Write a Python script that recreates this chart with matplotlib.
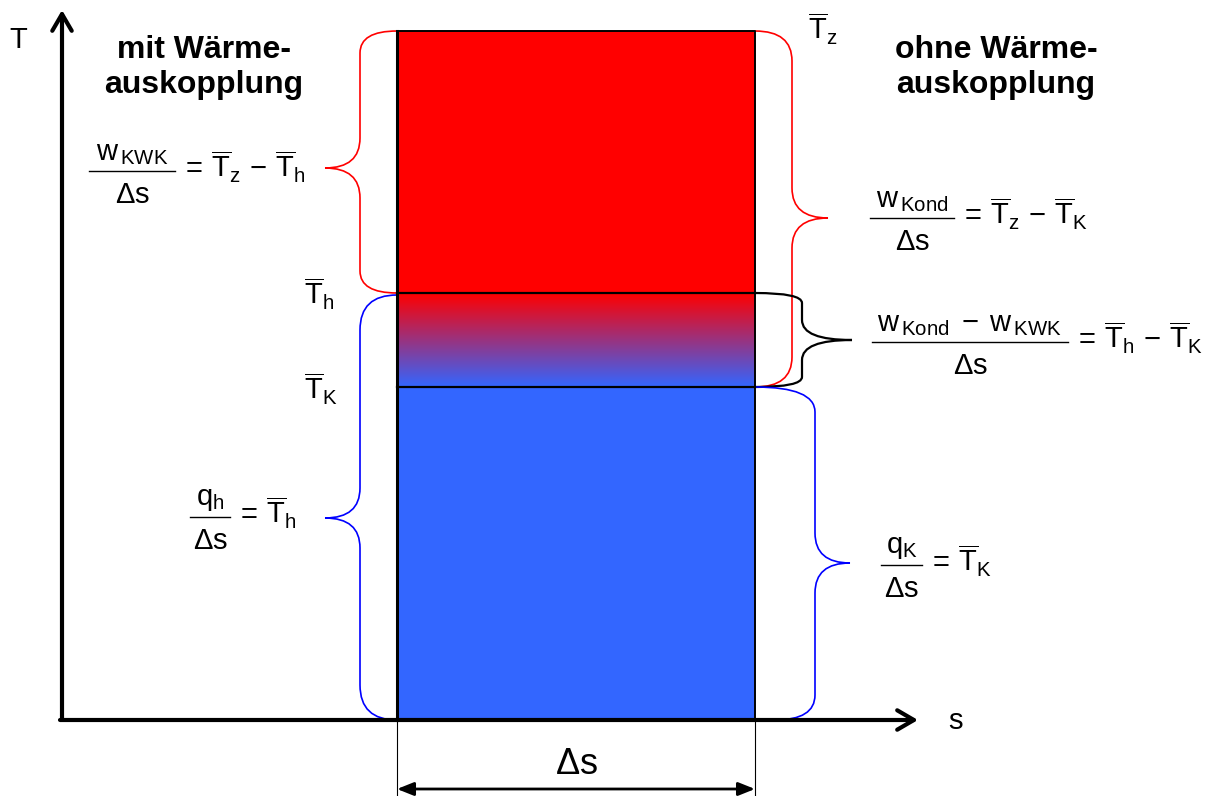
import numpy as np
import matplotlib.pyplot as plt
from matplotlib.path import Path
from matplotlib.patches import PathPatch, Rectangle, FancyArrowPatch
from matplotlib.colors import LinearSegmentedColormap

plt.rcParams['font.family'] = ['Liberation Sans', 'DejaVu Sans']
plt.rcParams['mathtext.fontset'] = 'custom'
plt.rcParams['mathtext.rm'] = 'Liberation Sans'
plt.rcParams['mathtext.it'] = 'Liberation Sans'
plt.rcParams['mathtext.default'] = 'regular'

# Diagram levels (canvas units, T grows upward)
H = 796
origin = (62, H - 720)
s_left, s_right = 397, 755
T_z = H - 31
T_h = H - 293
T_K = H - 387
T_0 = H - 720
s_tip = 918
T_tip = H - 10

col_hot = '#FF0000'
col_cold = '#3366FF'

fig = plt.figure(figsize=(12.08, 7.96), dpi=100)
ax = fig.add_axes([0, 0, 1, 1])
ax.set_xlim(0, 1208)
ax.set_ylim(0, H)
ax.axis('off')

# filled areas
ax.add_patch(Rectangle((s_left, T_h), s_right - s_left, T_z - T_h, fc=col_hot, ec='none'))
ax.add_patch(Rectangle((s_left, T_0), s_right - s_left, T_K - T_0, fc=col_cold, ec='none'))
grad = LinearSegmentedColormap.from_list('grad', [col_cold, col_hot])
ax.imshow(np.linspace(0, 1, 200).reshape(-1, 1), cmap=grad, origin='lower', aspect='auto',
          extent=[s_left, s_right, T_K, T_h], zorder=1)
# outlines
ax.plot([s_left, s_left], [T_0, T_z], color='black', lw=2.2, zorder=3)
ax.plot([s_left, s_right, s_right], [T_z, T_z, T_0], color='black', lw=1.4, zorder=3)
ax.plot([s_left, s_right], [T_h, T_h], color='black', lw=1.6, zorder=3)
ax.plot([s_left, s_right], [T_K, T_K], color='black', lw=1.6, zorder=3)

# axes arrows
ax.add_patch(FancyArrowPatch((origin[0], origin[1]), (origin[0], T_tip), arrowstyle='->,head_length=12,head_width=7',
                             lw=3, color='black', shrinkA=0, shrinkB=0, zorder=4))
ax.add_patch(FancyArrowPatch((origin[0] - 2, origin[1]), (s_tip, origin[1]), arrowstyle='->,head_length=12,head_width=7',
                             lw=3, color='black', shrinkA=0, shrinkB=0, zorder=4))

# delta s dimension
ax.plot([s_left, s_left], [0, T_0], color='black', lw=0.8)
ax.plot([s_right, s_right], [0, T_0], color='black', lw=0.8)
ax.add_patch(FancyArrowPatch((s_left, H - 789), (s_right, H - 789), arrowstyle='<|-|>,head_length=10,head_width=4',
                             lw=2, color='black', shrinkA=0, shrinkB=0))
ax.text((s_left + s_right) / 2, H - 765, r'$\Delta$s', fontsize=26, ha='center', va='center')


def brace(x_end, y_top, y_bot, x_spine, x_tip, y_tip, r_end, r_tip, color, lw=1.2, x_end_bot=None):
    if x_end_bot is None:
        x_end_bot = x_end
    verts = [(x_end, y_top), (x_spine, y_top), (x_spine, y_top - r_end),
             (x_spine, y_tip + r_tip), (x_spine, y_tip), (x_tip, y_tip),
             (x_spine, y_tip), (x_spine, y_tip - r_tip),
             (x_spine, y_bot + r_end), (x_spine, y_bot), (x_end_bot, y_bot)]
    codes = [Path.MOVETO, Path.CURVE3, Path.CURVE3, Path.LINETO, Path.CURVE3, Path.CURVE3,
             Path.CURVE3, Path.CURVE3, Path.LINETO, Path.CURVE3, Path.CURVE3]
    ax.add_patch(PathPatch(Path(verts, codes), fc='none', ec=color, lw=lw, zorder=2))


brace(s_left, T_z, T_h, 360, 325, H - 168, 22, 30, 'red')
brace(s_left, T_h - 2, T_0, 360, 325, H - 518, 35, 30, 'blue')
brace(s_right, T_z, T_K, 792, 828, H - 218, 30, 30, 'red')
brace(s_right, T_h, T_K, 802, 852, H - 340, 10, 20, 'black', lw=1.6)
brace(s_right, T_K, T_0, 815, 850, H - 563, 25, 30, 'blue', x_end_bot=775)

fs = 21


def frac_eq(x0, x1, y_bar, num, rhs, den=r'$\Delta$s'):
    # fraction built by hand: numerator, bar, denominator, right-hand side
    yb = H - y_bar
    xc = (x0 + x1) / 2
    ax.plot([x0, x1], [yb, yb], color='black', lw=1.0)
    ax.text(xc, yb + 4, num, fontsize=fs, ha='center', va='bottom')
    ax.text(xc, yb - 32, den, fontsize=fs, ha='center', va='baseline')
    ax.text(x1 + 6, yb - 7, rhs, fontsize=fs, ha='left', va='baseline')


# labels
ax.text(18, H - 48, 'T', fontsize=fs, ha='center', va='baseline')
ax.text(955, H - 729, 's', fontsize=fs, ha='center', va='baseline')
for xc, words in [(204, ['mit Wärme-', 'auskopplung']), (996, ['ohne Wärme-', 'auskopplung'])]:
    ax.text(xc, H - 58, words[0], fontsize=23, fontweight='bold', ha='center', va='baseline')
    ax.text(xc, H - 93, words[1], fontsize=23, fontweight='bold', ha='center', va='baseline')

ax.text(808, H - 40, r'$\overline{T}_z$', fontsize=fs, ha='left', va='baseline')
ax.text(304, H - 305, r'$\overline{T}_h$', fontsize=fs, ha='left', va='baseline')
ax.text(304, H - 400, r'$\overline{T}_K$', fontsize=fs, ha='left', va='baseline')

frac_eq(89, 175, 171, r'$w_{\,KWK}$', r'$=\,\overline{T}_z\,-\,\overline{T}_h$')
frac_eq(190, 230, 517, r'$q_h$', r'$=\,\overline{T}_h$')
frac_eq(870, 954, 218, r'$w_{\,Kond}$', r'$=\,\overline{T}_z\,-\,\overline{T}_K$')
frac_eq(872, 1068, 342, r'$w_{\,Kond}\;-\;w_{\,KWK}$', r'$=\,\overline{T}_h\,-\,\overline{T}_K$')
frac_eq(881, 922, 565, r'$q_K$', r'$=\,\overline{T}_K$')

fig.savefig('out.png', dpi=100)
